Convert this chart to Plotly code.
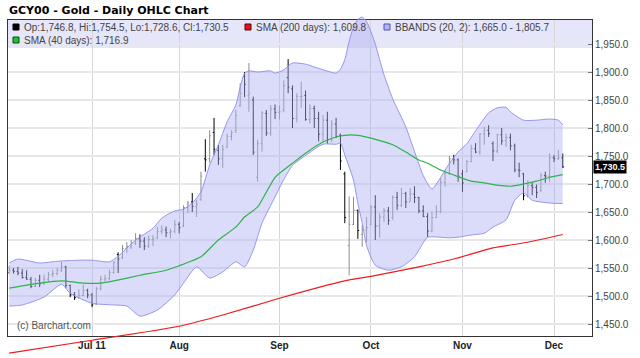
import plotly.graph_objects as go

# ---------------- data ----------------
TITLE = "GCY00 - Gold - Daily OHLC Chart"

TRADING_DAYS = {
    "2011-06": [6, 7, 8, 9, 10, 13, 14, 15, 16, 17, 20, 21, 22, 23, 24, 27, 28, 29, 30],
    "2011-07": [1, 5, 6, 7, 8, 11, 12, 13, 14, 15, 18, 19, 20, 21, 22, 25, 26, 27, 28, 29],
    "2011-08": [1, 2, 3, 4, 5, 8, 9, 10, 11, 12, 15, 16, 17, 18, 19, 22, 23, 24, 25, 26, 29, 30, 31],
    "2011-09": [1, 2, 6, 7, 8, 9, 12, 13, 14, 15, 16, 19, 20, 21, 22, 23, 26, 27, 28, 29, 30],
    "2011-10": [3, 4, 5, 6, 7, 10, 11, 12, 13, 14, 17, 18, 19, 20, 21, 24, 25, 26, 27, 28, 31],
    "2011-11": [1, 2, 3, 4, 7, 8, 9, 10, 11, 14, 15, 16, 17, 18, 21, 22, 23, 25, 28, 29, 30],
    "2011-12": [1, 2, 5],
}
dates = [f"{m}-{d:02d}" for m, ds in TRADING_DAYS.items() for d in ds]

opens = [1542, 1546, 1544, 1541, 1533, 1530, 1517, 1528, 1522, 1530, 1538, 1540, 1546, 1552, 1519, 1502, 1497, 1501, 1510, 1502,
         1486, 1513, 1530, 1531, 1542, 1574, 1568, 1585, 1588, 1594, 1602, 1598, 1589, 1601, 1604, 1615, 1618, 1613, 1615, 1628,
         1625, 1658, 1668, 1660, 1672, 1745, 1745, 1792, 1760, 1745, 1766, 1785, 1795, 1840, 1892, 1858, 1850, 1712, 1772, 1826,
         1791, 1834, 1828, 1832, 1890, 1870, 1817, 1856, 1858, 1815, 1835, 1817, 1789, 1814, 1779, 1807, 1787, 1718, 1590, 1628,
         1653, 1610, 1618, 1628, 1659, 1625, 1641, 1652, 1640, 1676, 1662, 1683, 1668, 1682, 1676, 1652, 1642, 1616, 1640, 1651,
         1703, 1719, 1745, 1743, 1718, 1722, 1740, 1763, 1757, 1789, 1796, 1772, 1759, 1788, 1777, 1783, 1768, 1725, 1718, 1679,
         1697, 1694, 1688, 1715, 1714, 1747, 1745, 1746.8]
highs = [1554, 1550, 1552, 1548, 1546, 1534, 1532, 1538, 1538, 1543, 1547, 1550, 1561, 1554, 1520, 1507, 1512, 1520, 1513, 1505,
         1516, 1536, 1538, 1547, 1562, 1578, 1591, 1596, 1600, 1612, 1610, 1605, 1608, 1609, 1624, 1626, 1624, 1620, 1636, 1632,
         1662, 1670, 1684, 1672, 1722, 1780, 1796, 1818, 1770, 1770, 1790, 1796, 1832, 1880, 1900, 1916, 1856, 1779, 1830, 1832,
         1841, 1842, 1840, 1885, 1923, 1876, 1862, 1883, 1867, 1842, 1840, 1829, 1823, 1829, 1814, 1818, 1790, 1722, 1678, 1677,
         1654, 1627, 1641, 1662, 1680, 1648, 1657, 1659, 1680, 1686, 1693, 1686, 1693, 1696, 1677, 1662, 1648, 1650, 1662, 1711,
         1725, 1750, 1752, 1746, 1725, 1743, 1770, 1773, 1791, 1802, 1805, 1776, 1790, 1800, 1790, 1790, 1772, 1738, 1720, 1707,
         1703, 1699, 1720, 1722, 1755, 1752, 1761, 1754.5]
lows = [1539, 1540, 1537, 1531, 1529, 1514, 1516, 1516, 1520, 1525, 1534, 1537, 1543, 1514, 1498, 1493, 1495, 1500, 1496, 1480,
        1484, 1510, 1526, 1528, 1540, 1541, 1566, 1577, 1584, 1591, 1586, 1582, 1586, 1589, 1602, 1610, 1605, 1603, 1612, 1612,
        1623, 1648, 1650, 1641, 1670, 1722, 1738, 1752, 1734, 1729, 1764, 1778, 1791, 1838, 1855, 1829, 1752, 1704, 1758, 1786,
        1786, 1816, 1815, 1828, 1862, 1800, 1810, 1836, 1813, 1808, 1800, 1776, 1775, 1772, 1775, 1782, 1725, 1630, 1537, 1627,
        1602, 1588, 1596, 1627, 1600, 1604, 1632, 1627, 1636, 1654, 1659, 1657, 1668, 1666, 1648, 1641, 1605, 1614, 1639, 1648,
        1695, 1716, 1735, 1704, 1686, 1721, 1739, 1755, 1752, 1770, 1784, 1741, 1755, 1770, 1766, 1760, 1721, 1712, 1671, 1676,
        1680, 1675, 1686, 1702, 1704, 1739, 1743, 1728.6]
closes = [1546, 1544, 1541, 1533, 1530, 1517, 1528, 1522, 1530, 1538, 1540, 1546, 1552, 1519, 1502, 1497, 1501, 1510, 1502, 1484,
          1513, 1530, 1531, 1542, 1560, 1566, 1585, 1588, 1594, 1602, 1598, 1589, 1601, 1603, 1615, 1618, 1613, 1615, 1628, 1622,
          1658, 1666, 1660, 1664, 1714, 1743, 1786, 1762, 1745, 1762, 1785, 1792, 1822, 1862, 1878, 1862, 1757, 1772, 1827, 1791,
          1834, 1828, 1829, 1876, 1873, 1817, 1856, 1857, 1815, 1835, 1817, 1789, 1814, 1779, 1807, 1785, 1741, 1640, 1628, 1653,
          1617, 1618, 1622, 1659, 1625, 1641, 1652, 1635, 1676, 1662, 1683, 1668, 1682, 1676, 1652, 1642, 1616, 1640, 1651, 1703,
          1719, 1745, 1743, 1714, 1702, 1740, 1763, 1757, 1789, 1796, 1790, 1759, 1788, 1777, 1783, 1768, 1725, 1724, 1679, 1697,
          1694, 1685, 1715, 1714, 1747, 1745, 1747, 1730.5]

# indicator readings (bar number -> value)
bb_upper_bar = [0, 2, 7, 11, 16, 19, 23, 25, 29, 33, 35, 38, 40, 42, 44, 46, 48, 50, 52, 53, 54, 55, 57, 60, 61, 63, 65, 68,
                70, 72, 75, 76, 77, 78, 79, 80, 81, 82, 83, 84, 85, 86, 88, 91, 93, 95, 97, 99, 101, 103, 105, 107, 110,
                112, 114, 115, 118, 121, 124, 126, 127]
bb_upper_val = [1559, 1566, 1559, 1562, 1564, 1564, 1561, 1571, 1600, 1621, 1639, 1652, 1655, 1666, 1686, 1734, 1770, 1811,
                1841, 1873, 1898, 1902, 1900, 1902, 1898, 1904, 1916, 1914, 1909, 1904, 1898, 1905, 1922, 1955, 1980, 1994,
                1998, 1990, 1972, 1950, 1922, 1895, 1852, 1802, 1758, 1715, 1691, 1712, 1737, 1757, 1772, 1795, 1827,
                1836, 1837, 1829, 1814, 1814, 1816, 1814, 1805.7]
bb_lower_bar = [0, 3, 8, 12, 14, 19, 24, 27, 30, 34, 38, 40, 43, 46, 49, 52, 54, 56, 58, 61, 63, 65, 68, 72, 75, 76, 77,
                79, 80, 81, 82, 84, 87, 90, 93, 95, 96, 101, 103, 106, 109, 111, 114, 116, 118, 120, 124, 127]
bb_lower_val = [1482, 1484, 1498, 1521, 1505, 1487, 1484, 1482, 1464, 1475, 1502, 1523, 1552, 1532, 1543, 1561, 1552, 1582,
                1630, 1677, 1708, 1733, 1751, 1771, 1771, 1773, 1752, 1707, 1665, 1630, 1590, 1555, 1546, 1552, 1570, 1595,
                1605, 1604, 1605, 1609, 1612, 1623, 1636, 1671, 1684, 1671, 1666, 1665.0]
sma40_bar = [0, 7, 12, 17, 21, 24, 30, 36, 39, 44, 48, 52, 54, 57, 61, 65, 68, 72, 75, 77, 80, 83, 88, 91, 94, 96, 99, 102,
             106, 109, 112, 115, 118, 121, 124, 127]
sma40_val = [1514, 1523, 1527, 1523, 1523, 1527, 1537, 1546, 1554, 1570, 1600, 1623, 1641, 1659, 1712, 1737, 1755, 1775, 1784,
             1787, 1787, 1782, 1770, 1757, 1743, 1737, 1725, 1716, 1705, 1702, 1698, 1696, 1700, 1705, 1712, 1716.9]
sma200_bar = [0, 19, 39, 49, 62, 77, 83, 94, 102, 111, 119, 127]
sma200_val = [1398, 1421, 1446, 1466, 1496, 1527, 1535, 1552, 1566, 1586, 1596, 1609.8]

month_tick_dates = ["2011-07-01", "2011-08-01", "2011-09-01", "2011-10-03", "2011-11-01", "2011-12-01"]
month_tick_text = ["Jul 11", "Aug", "Sep", "Oct", "Nov", "Dec"]
price_ticks = [1450, 1500, 1550, 1600, 1650, 1700, 1750, 1800, 1850, 1900, 1950]

legend_row1 = ["Op:1,746.8, Hi:1,754.5, Lo:1,728.6, Cl:1,730.5", "SMA (200 days): 1,609.8", "BBANDS (20, 2): 1,665.0 - 1,805.7"]
legend_row2 = ["SMA (40 days): 1,716.9"]
last_price = closes[-1]

# ---------------- geometry (pixels) ----------------
W, H = 640, 358
PL, PR, PT, PB = 8, 592, 20, 336          # plot box
Y_TOP_TICK_PX, Y_BOT_TICK_PX = 44, 324    # 1950 and 1450 positions
GRID_FIRST_PX, GRID_LAST_PX = 92, 554     # Jul 1 and Dec 1 gridlines

ys = (Y_BOT_TICK_PX - Y_TOP_TICK_PX) / (price_ticks[-1] - price_ticks[0])
def val_at(py_):
    return price_ticks[0] + (Y_BOT_TICK_PX - py_) / ys

i_first = dates.index(month_tick_dates[0])
i_last = dates.index(month_tick_dates[-1])
xs = (GRID_LAST_PX - GRID_FIRST_PX) / (i_last - i_first)
x_range = [i_first - (GRID_FIRST_PX - PL) / xs, i_first + (PR - GRID_FIRST_PX) / xs]

def px(x):
    return (x - PL) / (PR - PL)
def py(y):
    return (H - y) / H

D_BOT, D_TOP = py(PB), py(PT)

FONT = "Liberation Sans, Arial, sans-serif"
BAND_EDGE = "rgba(140,140,235,0.9)"
BAND_FILL = "rgba(175,175,245,0.45)"

fig = go.Figure()

def add_band(xa, ya):
    fig.add_trace(go.Scatter(x=[dates[i] for i in bb_lower_bar], y=bb_lower_val, mode="lines",
                             line=dict(color=BAND_EDGE, width=1, shape="spline", smoothing=0.6),
                             hoverinfo="skip", showlegend=False, xaxis=xa, yaxis=ya))
    fig.add_trace(go.Scatter(x=[dates[i] for i in bb_upper_bar], y=bb_upper_val, mode="lines",
                             line=dict(color=BAND_EDGE, width=1, shape="spline", smoothing=0.6),
                             fill="tonexty", fillcolor=BAND_FILL,
                             hoverinfo="skip", showlegend=False, xaxis=xa, yaxis=ya))

def add_sma200(xa, ya):
    fig.add_trace(go.Scatter(x=[dates[i] for i in sma200_bar], y=sma200_val, mode="lines",
                             line=dict(color="#ee1c1c", width=1.2, shape="spline", smoothing=0.5),
                             hoverinfo="skip", showlegend=False, xaxis=xa, yaxis=ya))

# main plot box
add_band("x", "y")
add_sma200("x", "y")
fig.add_trace(go.Scatter(x=[dates[i] for i in sma40_bar], y=sma40_val, mode="lines",
                         line=dict(color="#2db44a", width=1.2, shape="spline", smoothing=0.5),
                         hoverinfo="skip", showlegend=False, xaxis="x", yaxis="y"))
fig.add_trace(go.Ohlc(x=dates, open=opens, high=highs, low=lows, close=closes,
                      increasing=dict(line=dict(color="#8c8c8c", width=1)),
                      decreasing=dict(line=dict(color="#000000", width=1)),
                      tickwidth=0.3, hoverinfo="skip", showlegend=False, xaxis="x", yaxis="y"))
# strip below the axis (the SMA 200 runs past the bottom edge)
add_sma200("x2", "y2")
# strip above the box (the band bulges past the top edge)
add_band("x3", "y3")

shapes = [
    dict(type="rect", xref="paper", yref="paper", x0=0, x1=1, y0=py(48), y1=py(PT),
         fillcolor="rgba(222,222,250,0.75)", line=dict(width=0), layer="below"),
    dict(type="rect", xref="paper", yref="paper", x0=px(13), x1=px(19), y0=py(30), y1=py(24),
         fillcolor="#000000", line=dict(color="#000000", width=1)),
    dict(type="rect", xref="paper", yref="paper", x0=px(245), x1=px(251), y0=py(30), y1=py(24),
         fillcolor="#e8141c", line=dict(color="#600000", width=1)),
    dict(type="rect", xref="paper", yref="paper", x0=px(384), x1=px(390), y0=py(30), y1=py(24),
         fillcolor="#b4b4f0", line=dict(color="#5050b0", width=1)),
    dict(type="rect", xref="paper", yref="paper", x0=px(13), x1=px(19), y0=py(43), y1=py(37),
         fillcolor="#22c040", line=dict(color="#005000", width=1)),
]

LEG_SIZE = 10
ann = []
ann.append(dict(text="<b>" + TITLE + "</b>", xref="paper", yref="paper", x=px(7), y=py(10),
                xanchor="left", yanchor="middle", showarrow=False,
                font=dict(size=11, color="#000", family="DejaVu Sans, Arial, sans-serif")))
for x0, t in zip([22, 254, 393], legend_row1):
    ann.append(dict(text=t, xref="paper", yref="paper", x=px(x0), y=py(27), xanchor="left", yanchor="middle",
                    showarrow=False, font=dict(size=LEG_SIZE, color="#444", family=FONT)))
ann.append(dict(text=legend_row2[0], xref="paper", yref="paper", x=px(22), y=py(40), xanchor="left",
                yanchor="middle", showarrow=False, font=dict(size=LEG_SIZE, color="#444", family=FONT)))
ann.append(dict(text="(c) Barchart.com", xref="paper", yref="paper", x=px(15), y=py(325), xanchor="left",
                yanchor="middle", showarrow=False, font=dict(size=10, color="#555", family=FONT)))
ann.append(dict(text="<b>" + f"{last_price:,.1f}" + "</b>", xref="paper", yref="y", x=px(593), y=last_price,
                xanchor="left", yanchor="middle", showarrow=False, bgcolor="#000000", borderpad=1,
                font=dict(size=9, color="#ffffff", family=FONT)))

hidden_x = dict(type="category", categoryorder="array", categoryarray=dates, range=x_range,
                visible=False, rangeslider=dict(visible=False), fixedrange=True, domain=[0, 1])

fig.update_layout(
    width=W, height=H,
    margin=dict(l=PL, r=W - PR, t=0, b=0, pad=0),
    paper_bgcolor="white", plot_bgcolor="white",
    font=dict(family=FONT, size=10, color="#444"),
    showlegend=False,
    shapes=shapes, annotations=ann,
    xaxis=dict(domain=[0, 1], anchor="y", type="category", categoryorder="array", categoryarray=dates,
               range=x_range, tickmode="array", tickvals=month_tick_dates,
               ticktext=["<b>" + t + "</b>" for t in month_tick_text],
               tickfont=dict(size=10, color="#222"), showgrid=True, gridcolor="#d6d6d6", gridwidth=1,
               showline=True, linecolor="#333", linewidth=1, mirror=True, ticks="",
               zeroline=False, rangeslider=dict(visible=False), fixedrange=True),
    yaxis=dict(domain=[D_BOT, D_TOP], anchor="x", range=[val_at(PB), val_at(PT)], side="right",
               tickmode="array", tickvals=price_ticks, ticktext=[f"{v:,.1f}" for v in price_ticks],
               tickfont=dict(size=10, color="#444"), showgrid=True, gridcolor="#e8e8e8", gridwidth=2,
               showline=True, linecolor="#333", linewidth=1, mirror=True, ticks="inside", ticklen=4,
               tickcolor="#777", zeroline=False, fixedrange=True),
    xaxis2=dict(anchor="y2", **hidden_x),
    yaxis2=dict(domain=[0, D_BOT], anchor="x2", range=[val_at(H), val_at(PB)], visible=False, fixedrange=True),
    xaxis3=dict(anchor="y3", **hidden_x),
    yaxis3=dict(domain=[D_TOP, 1], anchor="x3", range=[val_at(PT), val_at(0)], visible=False, fixedrange=True),
)

fig.write_html("out.html", config={"displayModeBar": False},
               post_script="document.body.style.margin='0px';document.body.style.overflow='hidden';")
